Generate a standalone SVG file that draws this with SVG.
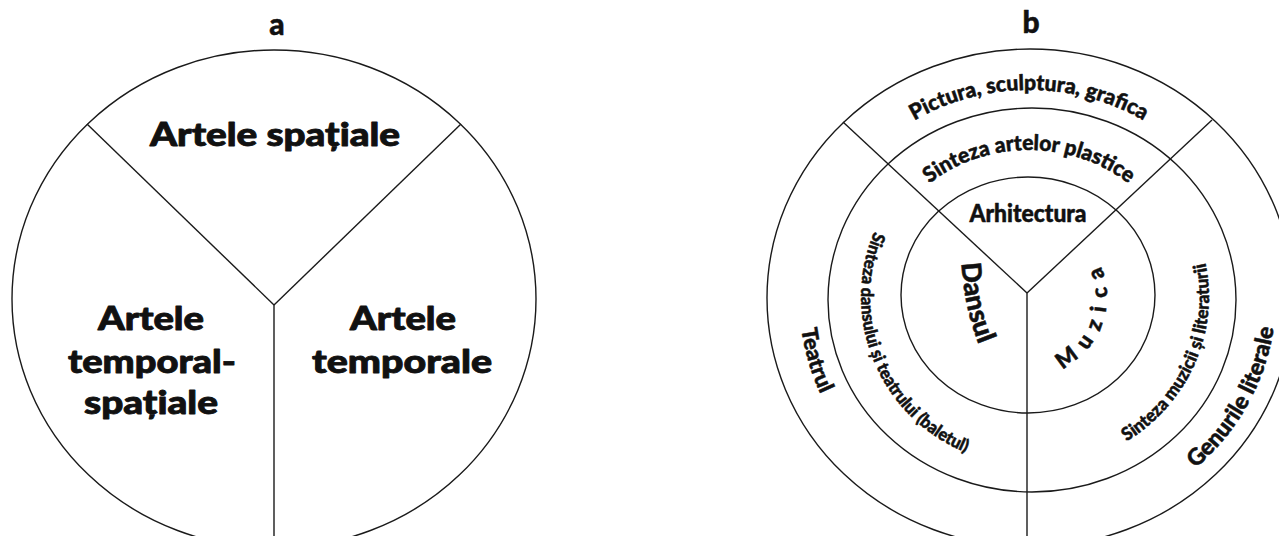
<svg xmlns="http://www.w3.org/2000/svg" width="1279" height="536" viewBox="0 0 1279 536">
<style>
.ring{fill:none;stroke:#1a1a1a;stroke-width:1.4}
.line{fill:none;stroke:#1a1a1a;stroke-width:1.4}
.t{font-family:Lato,"Open Sans","Noto Sans",sans-serif;font-weight:900;fill:#111;stroke:#111;stroke-width:0.5;stroke-linejoin:round}
.big{font-size:33px;stroke-width:0.9}
.c{text-anchor:middle}
</style>
<defs>
<path id="p-pictura" d="M 823.2,226.2 A 219 207 0 0 1 1234.8,226.2"/>
<path id="p-plastice" d="M 881.5,246.7 A 157 147 0 0 1 1176.5,246.7"/>
<path id="p-dansul" d="M 961,255 Q 963,310 982,352"/>
<path id="p-muzica" d="M 1041.7,374.8 A 79 79 0 0 0 1067.5,228.6"/>
<path id="p-balet" d="M 891.4,200.6 A 168 168 0 0 0 999.8,462.4"/>
<path id="p-literatura" d="M 1060.3,466.4 A 180 172 0 0 0 1176.4,198.3"/>
<path id="p-teatrul" d="M 812.9,218.3 A 230 230 0 0 0 890.6,480.7"/>
<path id="p-genuri" d="M 1092.9,521.1 A 247 232 0 0 0 1259.6,213.9"/>
</defs>
<rect width="1279" height="536" fill="#fff"/>

<!-- Diagram a -->
<g id="a-frame">
<text class="t c" x="277" y="35" font-size="30" stroke-width="0.8">a</text>
<ellipse class="ring" cx="274" cy="299" rx="262" ry="249"/>
</g>
<g id="a-connectors">
<line class="line" x1="274" y1="305" x2="87" y2="124"/>
<line class="line" x1="274" y1="305" x2="461" y2="124"/>
<line class="line" x1="274" y1="305" x2="274" y2="536"/>
</g>
<g id="a-spatiale">
<text class="t big c" x="275" y="146" textLength="250" lengthAdjust="spacingAndGlyphs">Artele spațiale</text>
</g>
<g id="a-temporal-spatiale">
<text class="t big c" x="151" y="330" textLength="106" lengthAdjust="spacingAndGlyphs">Artele</text>
<text class="t big c" x="152" y="373" textLength="168" lengthAdjust="spacingAndGlyphs">temporal-</text>
<text class="t big c" x="151" y="414" textLength="134" lengthAdjust="spacingAndGlyphs">spațiale</text>
</g>
<g id="a-temporale">
<text class="t big c" x="403" y="330" textLength="106" lengthAdjust="spacingAndGlyphs">Artele</text>
<text class="t big c" x="402" y="373" textLength="180" lengthAdjust="spacingAndGlyphs">temporale</text>
</g>

<!-- Diagram b -->
<g id="b-frame">
<text class="t c" x="1031" y="33" font-size="30" stroke-width="0.8">b</text>
<ellipse class="ring" cx="1030" cy="298" rx="263" ry="249"/>
<ellipse class="ring" cx="1032" cy="300" rx="204" ry="192"/>
<ellipse class="ring" cx="1028" cy="295" rx="127" ry="118"/>
</g>
<g id="b-connectors">
<line class="line" x1="1027" y1="293" x2="843" y2="122"/>
<line class="line" x1="1027" y1="293" x2="1212" y2="120"/>
<line class="line" x1="1027" y1="293" x2="1027" y2="536"/>
</g>
<g id="b-pictura">
<text class="t" font-size="21.5"><textPath href="#p-pictura" startOffset="50%" text-anchor="middle" textLength="240" lengthAdjust="spacingAndGlyphs">Pictura, sculptura, grafica</textPath></text>
</g>
<g id="b-plastice">
<text class="t" font-size="21.5"><textPath href="#p-plastice" startOffset="50%" text-anchor="middle" textLength="214" lengthAdjust="spacingAndGlyphs">Sinteza artelor plastice</textPath></text>
</g>
<g id="b-arhitectura">
<text class="t c" x="1028" y="222" font-size="24" textLength="117" lengthAdjust="spacingAndGlyphs">Arhitectura</text>
</g>
<g id="b-dansul">
<text class="t" font-size="27" stroke-width="0.7"><textPath href="#p-dansul" startOffset="50%" text-anchor="middle">Dansul</textPath></text>
</g>
<g id="b-muzica">
<text class="t" font-size="22" letter-spacing="10" stroke-width="0.6"><textPath href="#p-muzica" startOffset="21">Muzica</textPath></text>
</g>
<g id="b-balet">
<text class="t" font-size="17.5"><textPath href="#p-balet" startOffset="50%" text-anchor="middle" textLength="266" lengthAdjust="spacingAndGlyphs">Sinteza dansului și teatrului (baletul)</textPath></text>
</g>
<g id="b-literatura">
<text class="t" font-size="18"><textPath href="#p-literatura" startOffset="50%" text-anchor="middle" textLength="208" lengthAdjust="spacingAndGlyphs">Sinteza muzicii și literaturii</textPath></text>
</g>
<g id="b-teatrul">
<text class="t" font-size="22" stroke-width="0.6"><textPath href="#p-teatrul" startOffset="50%" text-anchor="middle">Teatrul</textPath></text>
</g>
<g id="b-genuri">
<text class="t" font-size="23" stroke-width="0.6"><textPath href="#p-genuri" startOffset="50%" text-anchor="middle">Genurile literale</textPath></text>
</g>
</svg>
